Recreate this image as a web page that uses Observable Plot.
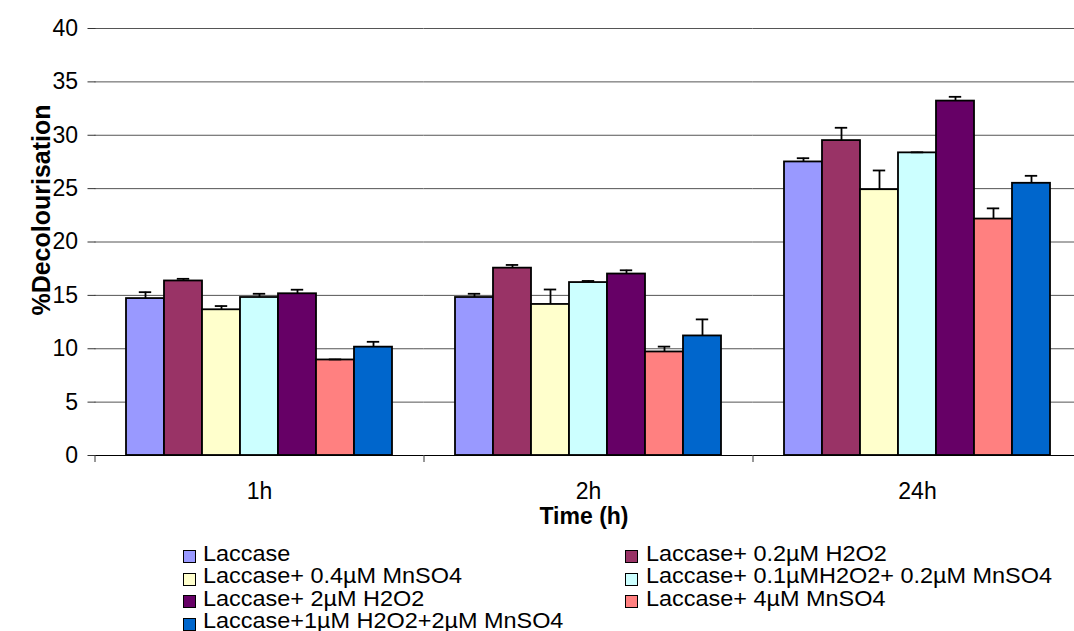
<!DOCTYPE html>
<html>
<head>
<meta charset="utf-8">
<script src="https://cdn.jsdelivr.net/npm/d3@7"></script>
<script src="https://cdn.jsdelivr.net/npm/@observablehq/plot@0.6"></script>
<style>
  body { margin: 0; background: #fff; font-family: "Liberation Sans", Arial, sans-serif; }
  #wrap { position: relative; width: 1074px; height: 631px; overflow: hidden; background: #fff; }
  #chart { position: absolute; left: 0; top: 0; }
  #ylab { position: absolute; left: 41px; top: 210px; transform: translate(-50%, -50%) rotate(-90deg);
          font-weight: bold; font-size: 25px; white-space: nowrap; color: #000; }
  #xlab { position: absolute; left: 584px; top: 516px; transform: translate(-50%, -50%);
          font-weight: bold; font-size: 23px; white-space: nowrap; color: #000; }
  .leg { position: absolute; font-size: 22px; line-height: 22px; white-space: nowrap; color: #000;
         transform: scaleX(1.065); transform-origin: 0 50%; }
  .sw { position: absolute; width: 11px; height: 11px; border: 1.5px solid #000; }
</style>
</head>
<body>
<div id="wrap">
  <div id="chart"></div>
  <div id="ylab">%Decolourisation</div>
  <div id="xlab">Time (h)</div>
  <div id="legend"></div>
</div>
<script>
const groups = ["1h", "2h", "24h"];
const series = [
  "Laccase",
  "Laccase+ 0.2µM H2O2",
  "Laccase+ 0.4µM MnSO4",
  "Laccase+ 0.1µMH2O2+ 0.2µM MnSO4",
  "Laccase+ 2µM H2O2",
  "Laccase+ 4µM MnSO4",
  "Laccase+1µM H2O2+2µM MnSO4"
];
const colors = ["#9999FF", "#993366", "#FFFFCC", "#CCFFFF", "#660066", "#FF8080", "#0066CC"];

const values1h  = [14.7, 16.35, 13.65, 14.8, 15.15, 8.95, 10.15];
const errors1h  = [0.6, 0.2, 0.35, 0.35, 0.38, 0.05, 0.5];
const values2h  = [14.8, 17.55, 14.15, 16.2, 17.0, 9.7, 11.2];
const errors2h  = [0.35, 0.3, 1.4, 0.15, 0.35, 0.5, 1.55];
const values24h = [27.5, 29.5, 24.9, 28.35, 33.2, 22.15, 25.5];
const errors24h = [0.35, 1.2, 1.8, 0.05, 0.4, 1.0, 0.7];
const yTicks = [0, 5, 10, 15, 20, 25, 30, 35, 40];

const valueSets = [values1h, values2h, values24h];
const errorSets = [errors1h, errors2h, errors24h];
const rows = [];
groups.forEach((g, gi) => series.forEach((s, si) => {
  rows.push({group: g, series: s, value: valueSets[gi][si], err: errorSets[gi][si]});
}));

const step = (1081 - 94) / 3;
const chart = Plot.plot({
  width: 1074,
  height: 535,
  marginTop: 28,
  marginBottom: 80,
  marginLeft: 95,
  marginRight: 0,
  style: {fontFamily: "'Liberation Sans', Arial, sans-serif", fontSize: "23px", color: "#000", background: "#fff", overflow: "visible"},
  fx: {domain: groups, range: [94, 1081], paddingInner: 59 / step, paddingOuter: 29.5 / step, label: null},
  x: {domain: series, padding: 0, axis: null},
  y: {domain: [0, 40], axis: null},
  color: {domain: series, range: colors},
  marks: [
    Plot.ruleY(yTicks.slice(1), {stroke: "#555", strokeWidth: 1, insetLeft: -29.5, insetRight: -29.5}),
    Plot.barY(rows, {fx: "group", x: "series", y: "value", fill: "series", stroke: "#000", strokeWidth: 1.8}),
    Plot.ruleX(rows, {fx: "group", x: "series", y1: "value", y2: d => d.value + d.err, stroke: "#000", strokeWidth: 1.8}),
    Plot.tickY(rows, {fx: "group", x: "series", y: d => d.value + d.err, stroke: "#000", strokeWidth: 1.8, insetLeft: 12.8, insetRight: 12.8}),
    Plot.ruleY([0], {stroke: "#000", strokeWidth: 1.2, insetLeft: -29.5, insetRight: -29.5}),
    Plot.axisY({ticks: yTicks, tickSize: 8, tickPadding: 10, dx: -28.5, fontSize: 23, stroke: "#333", line: true, label: null}),
    Plot.axisFx({anchor: "bottom", tickSize: 0, tickPadding: 27, fontSize: 23, label: null}),
    Plot.axisFx({anchor: "bottom", tickSize: 7, tickFormat: () => "", dx: -step / 2, stroke: "#333", label: null})
  ]
});
document.getElementById("chart").appendChild(chart);

// legend (two columns, row-major)
const legend = document.getElementById("legend");
series.forEach((s, i) => {
  const col = i % 2, row = Math.floor(i / 2);
  const top = 542.5 + row * 22.5;
  const sw = document.createElement("div");
  sw.className = "sw";
  sw.style.left = (col ? 625 : 183) + "px";
  sw.style.top = (top + 7.5) + "px";
  sw.style.background = colors[i];
  legend.appendChild(sw);
  const t = document.createElement("div");
  t.className = "leg";
  t.style.left = (col ? 646 : 203) + "px";
  t.style.top = top + "px";
  t.textContent = s;
  legend.appendChild(t);
});
</script>
</body>
</html>
